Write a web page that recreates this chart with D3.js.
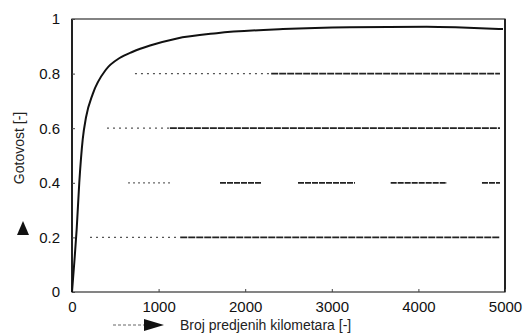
<!DOCTYPE html>
<html><head><meta charset="utf-8">
<script src="https://cdn.jsdelivr.net/npm/d3@7"></script>
<style>body{margin:0;background:#fff}svg{display:block}</style>
</head><body>
<script>
// Data
const curveKm =   [0, 27, 54, 84, 124, 162, 239, 393, 550, 701, 901, 1201, 1671, 2436, 3210, 4096, 4500, 4977];
const curveVal =  [0, 0.11, 0.23, 0.40, 0.56, 0.64, 0.725, 0.815, 0.857, 0.88, 0.903, 0.928, 0.948, 0.963, 0.970, 0.972, 0.969, 0.963];
const levels =     [0.8, 0.6, 0.2];
const levelStart = [727, 404, 208];
const levelDense = [2300, 1130, 1250];
const levelEnd =   [4942, 4942, 4942];
const level04 = 0.4;
const seg04Start = [647, 1709, 2610, 3680, 4734];
const seg04End =   [1132, 2194, 3268, 4330, 4942];
const xTicks = [0, 1000, 2000, 3000, 4000, 5000];
const yTicks = [0, 0.2, 0.4, 0.6, 0.8, 1];
const yTickLabels = ["0", "0.2", "0.4", "0.6", "0.8", "1"];
const xTitle = "Broj predjenih kilometara [-]";
const yTitle = "Gotovost [-]";

const W = 524, H = 334;
const svg = d3.select("body").append("svg").attr("width", W).attr("height", H);
const x = d3.scaleLinear().domain([0, 5000]).range([72, 505]);
const y = d3.scaleLinear().domain([0, 1]).range([292, 19]);
const font = "'Liberation Sans', Arial, sans-serif";

// frame
svg.append("rect").attr("x", x(0)).attr("y", y(1)).attr("width", x(5000) - x(0)).attr("height", y(0) - y(1))
  .attr("fill", "none").attr("stroke", "#333").attr("stroke-width", 1.2);
svg.append("line").attr("x1", x(0)).attr("x2", x(0)).attr("y1", y(1)).attr("y2", y(0)).attr("stroke", "#222").attr("stroke-width", 2);
svg.append("line").attr("x1", x(5000)).attr("x2", x(5000)).attr("y1", y(1)).attr("y2", y(0)).attr("stroke", "#222").attr("stroke-width", 2);

// axes with inward ticks
const xAxis = svg.append("g").attr("transform", `translate(0,${y(0)})`)
  .call(d3.axisBottom(x).tickValues(xTicks).tickSize(-3).tickPadding(15).tickFormat(d3.format("d")));
const yAxis = svg.append("g").attr("transform", `translate(${x(0)},0)`)
  .call(d3.axisLeft(y).tickValues(yTicks).tickSize(-3).tickPadding(12).tickFormat((d, i) => yTickLabels[i]));
[xAxis, yAxis].forEach(g => {
  g.select(".domain").remove();
  g.selectAll("line").attr("stroke", "#444");
  g.selectAll("text").attr("font-family", font).attr("font-size", 15).attr("fill", "#111");
});
xAxis.selectAll("text").attr("dy", "0.3em");

// horizontal level lines
levels.forEach((lv, i) => {
  svg.append("line").attr("x1", x(levelStart[i])).attr("x2", x(levelDense[i]))
    .attr("y1", y(lv)).attr("y2", y(lv)).attr("stroke", "#555").attr("stroke-width", 1.3)
    .attr("stroke-dasharray", "2,4");
  svg.append("line").attr("x1", x(levelDense[i])).attr("x2", x(levelEnd[i]))
    .attr("y1", y(lv)).attr("y2", y(lv)).attr("stroke", "#222").attr("stroke-width", 1.8)
    .attr("stroke-dasharray", "7,1");
});
seg04Start.forEach((s, i) => {
  svg.append("line").attr("x1", x(s)).attr("x2", x(seg04End[i]))
    .attr("y1", y(level04)).attr("y2", y(level04))
    .attr("stroke", i === 0 ? "#666" : "#222").attr("stroke-width", i === 0 ? 1.3 : 1.8)
    .attr("stroke-dasharray", i === 0 ? "2,3" : "6,1");
});

// main curve
const pts = curveKm.map((k, i) => [k, curveVal[i]]);
svg.append("path").datum(pts)
  .attr("d", d3.line().x(d => x(d[0])).y(d => y(d[1])).curve(d3.curveMonotoneX))
  .attr("fill", "none").attr("stroke", "#111").attr("stroke-width", 2);

// titles
svg.append("text").attr("transform", "translate(24,148) rotate(-90)")
  .attr("text-anchor", "middle").attr("font-family", font).attr("font-size", 14).attr("fill", "#222").text(yTitle);
svg.append("path").attr("d", "M17,235 L23,221 L29,235 Z").attr("fill", "#111");

svg.append("text").attr("x", 180).attr("y", 330).attr("font-family", font).attr("font-size", 14).attr("fill", "#222").text(xTitle);
svg.append("line").attr("x1", 113).attr("x2", 145).attr("y1", 325).attr("y2", 325).attr("stroke", "#666").attr("stroke-width", 1).attr("stroke-dasharray", "3,2");
svg.append("path").attr("d", "M144,319 L164,325 L144,331 Z").attr("fill", "#111");
</script>
</body></html>
